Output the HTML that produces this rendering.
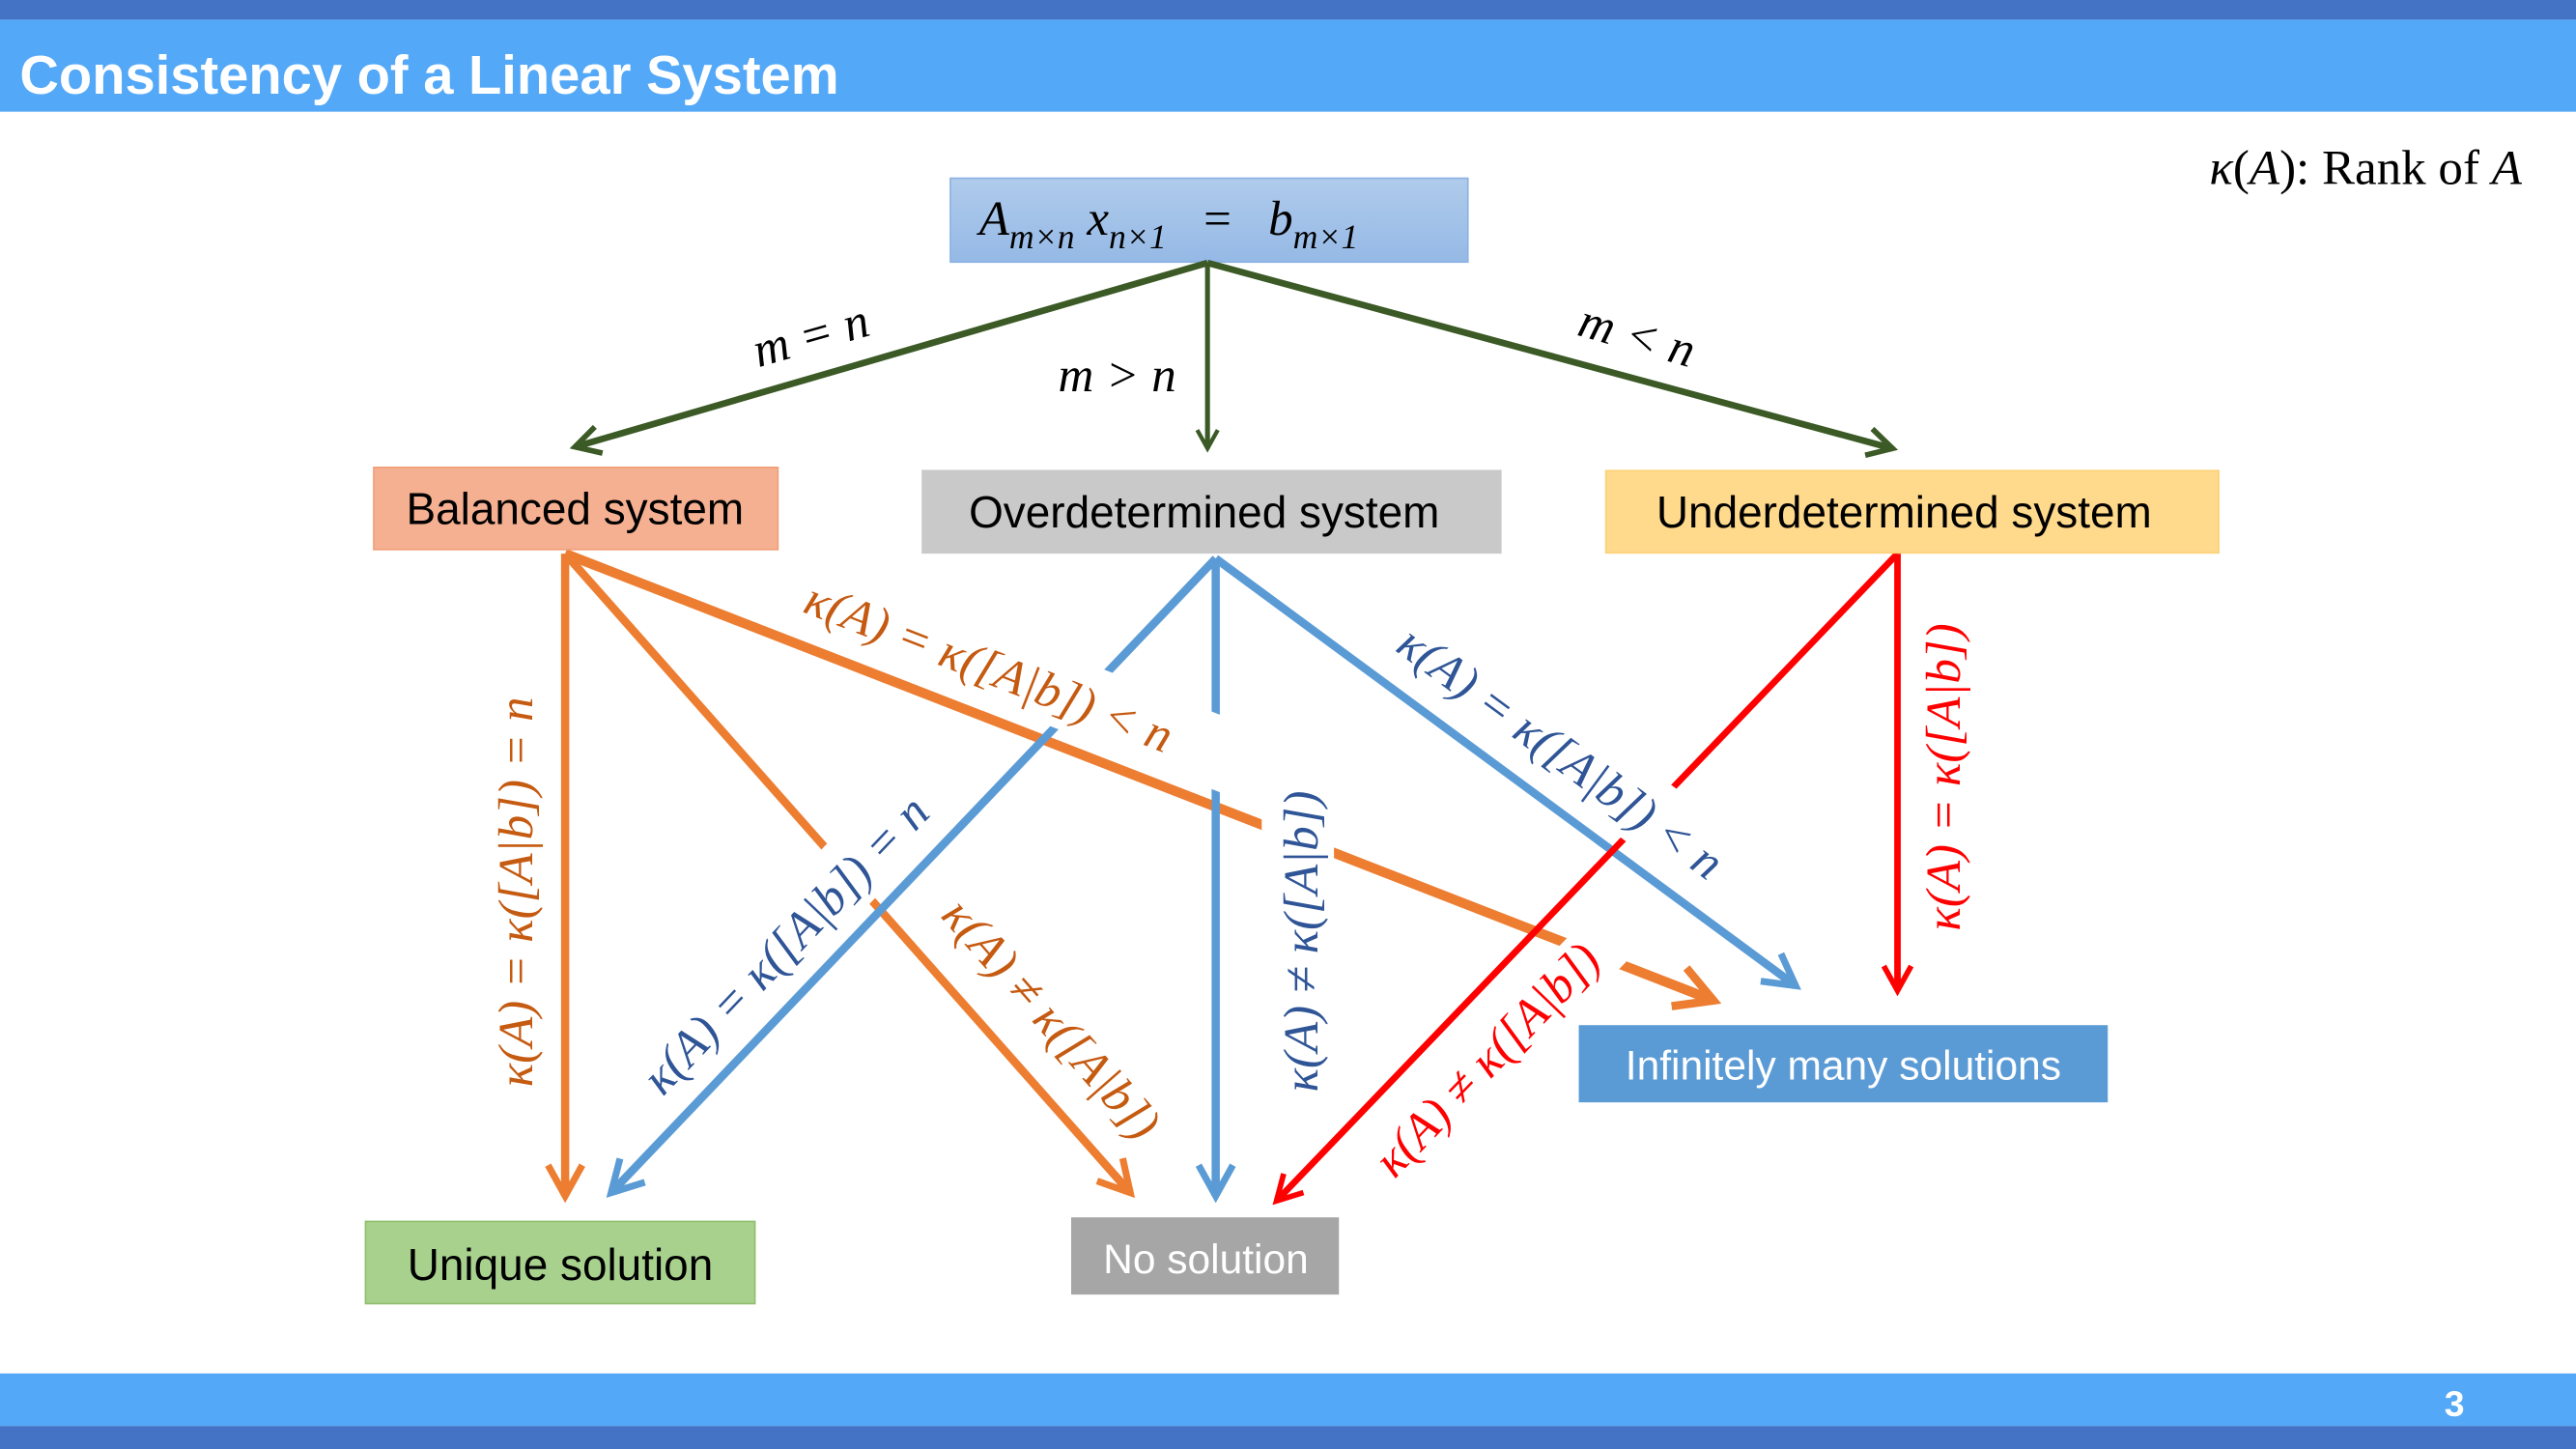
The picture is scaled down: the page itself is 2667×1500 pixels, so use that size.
<!DOCTYPE html>
<html><head><meta charset="utf-8"><style>
html,body{margin:0;padding:0;background:#fff;}
svg{display:block;}
text{font-family:"Liberation Serif",serif;}
.s{font-family:"Liberation Sans",sans-serif;}
</style></head><body>
<svg width="2667" height="1500" viewBox="0 0 1568 882" preserveAspectRatio="none" xmlns="http://www.w3.org/2000/svg">
<defs>
<marker id="ag" viewBox="0 0 12 12" refX="10" refY="6" markerWidth="5" markerHeight="5" orient="auto" markerUnits="strokeWidth"><path d="M1,1 L10,6 L1,11" fill="none" stroke="#3b5a26" stroke-width="2"/></marker>
<marker id="ao" viewBox="0 0 12 12" refX="10" refY="6" markerWidth="5" markerHeight="5" orient="auto" markerUnits="strokeWidth"><path d="M1,1 L10,6 L1,11" fill="none" stroke="#ed7d31" stroke-width="2"/></marker>
<marker id="ab" viewBox="0 0 12 12" refX="10" refY="6" markerWidth="5" markerHeight="5" orient="auto" markerUnits="strokeWidth"><path d="M1,1 L10,6 L1,11" fill="none" stroke="#5b9bd5" stroke-width="2"/></marker>
<marker id="ar" viewBox="0 0 12 12" refX="10" refY="6" markerWidth="5" markerHeight="5" orient="auto" markerUnits="strokeWidth"><path d="M1,1 L10,6 L1,11" fill="none" stroke="#ff0000" stroke-width="2"/></marker>
<linearGradient id="gt" x1="0" y1="0" x2="0" y2="1"><stop offset="0" stop-color="#b0cbeb"/><stop offset="1" stop-color="#95b9e6"/></linearGradient>
</defs>
<rect x="0" y="0" width="1568" height="882" fill="#ffffff"/>
<rect x="0" y="0" width="1568" height="12" fill="#4472c4"/>
<rect x="0" y="12" width="1568" height="56" fill="#53a8f7"/>
<text x="12" y="57" class="s" font-size="33" font-weight="bold" fill="#fff">Consistency of a Linear System</text>
<rect x="0" y="836" width="1568" height="32" fill="#53a8f7"/>
<rect x="0" y="868" width="1568" height="14" fill="#4472c4"/>
<text x="1494" y="862" class="s" font-size="22" font-weight="bold" fill="#fff" text-anchor="middle">3</text>

<text x="1535" y="112" font-size="30" text-anchor="end"><tspan font-style="italic">κ</tspan>(<tspan font-style="italic">A</tspan>): Rank of <tspan font-style="italic">A</tspan></text>

<rect x="578.5" y="108.5" width="315" height="51" fill="url(#gt)" stroke="#8db3e2"/>
<text x="596" y="143" font-size="30" font-style="italic" xml:space="preserve">A<tspan font-size="21" dy="8">m×n</tspan><tspan dy="-8"> x</tspan><tspan font-size="21" dy="8">n×1</tspan><tspan dy="-8" font-style="normal">   =   </tspan>b<tspan font-size="21" dy="8">m×1</tspan></text>

<g stroke="#3b5a26" stroke-width="4" fill="none">
<line x1="735" y1="160" x2="350" y2="272" marker-end="url(#ag)"/>
<line x1="735" y1="160" x2="735" y2="273" stroke-width="3" marker-end="url(#ag)"/>
<line x1="735" y1="160" x2="1152" y2="273" marker-end="url(#ag)"/>
</g>
<text x="494" y="214" font-size="30" font-style="italic" text-anchor="middle" transform="rotate(-16 494 206)">m = n</text>
<text x="680" y="238" font-size="30" font-style="italic" text-anchor="middle">m &gt; n</text>
<text x="996" y="214" font-size="30" font-style="italic" text-anchor="middle" transform="rotate(16 996 206)">m &lt; n</text>

<g fill="none">
<line x1="344" y1="337" x2="344" y2="728" stroke="#ed7d31" stroke-width="5" marker-end="url(#ao)"/>
<line x1="344" y1="337" x2="688" y2="726" stroke="#ed7d31" stroke-width="5" marker-end="url(#ao)"/>
<line x1="344" y1="337" x2="1043" y2="609" stroke="#ed7d31" stroke-width="6" marker-end="url(#ao)"/>
<line x1="740" y1="340" x2="372" y2="726" stroke="#5b9bd5" stroke-width="5" marker-end="url(#ab)"/>
<line x1="740" y1="340" x2="740" y2="728" stroke="#5b9bd5" stroke-width="5" marker-end="url(#ab)"/>
<line x1="740" y1="340" x2="1093" y2="600" stroke="#5b9bd5" stroke-width="5" marker-end="url(#ab)"/>
<line x1="1155" y1="337" x2="777" y2="731" stroke="#ff0000" stroke-width="4" marker-end="url(#ar)"/>
<line x1="1155" y1="337" x2="1155" y2="603" stroke="#ff0000" stroke-width="4" marker-end="url(#ar)"/>
</g>

<g font-size="30" font-style="italic">
<g transform="translate(602 406) rotate(21.3)"><rect x="-165" y="-24" width="330" height="44" fill="#fff"/><text y="10" text-anchor="middle" fill="#c55a11">κ(A) = κ([A|b]) &lt; n</text></g>
<g transform="translate(950 458) rotate(36.4)"><rect x="-155" y="-24" width="310" height="44" fill="#fff"/><text y="10" text-anchor="middle" fill="#2f5597">κ(A) = κ([A|b]) &lt; n</text></g>
<g transform="translate(792 573) rotate(-90)"><rect x="-110" y="-24" width="230" height="44" fill="#fff"/><text y="10" text-anchor="middle" fill="#2f5597">κ(A) ≠ κ([A|b])</text></g>
<g transform="translate(478 575) rotate(-46.4)"><rect x="-150" y="-24" width="300" height="44" fill="#fff"/><text y="10" text-anchor="middle" fill="#2f5597">κ(A) = κ([A|b]) = n</text></g>
<g transform="translate(640 620) rotate(48.7)"><rect x="-110" y="-24" width="220" height="44" fill="#fff"/><text y="10" text-anchor="middle" fill="#c55a11">κ(A) ≠ κ([A|b])</text></g>
<g transform="translate(905 645) rotate(-46.2)"><rect x="-95" y="-16" width="205" height="36" fill="#fff"/><text y="10" text-anchor="middle" fill="#ff0000">κ(A) ≠ κ([A|b])</text></g>
<g transform="translate(314 543) rotate(-90)"><text y="10" text-anchor="middle" fill="#c55a11">κ(A) = κ([A|b]) = n</text></g>
<g transform="translate(1183 473) rotate(-90)"><text y="10" text-anchor="middle" fill="#ff0000">κ(A) = κ([A|b])</text></g>
</g>

<rect x="227.5" y="284.5" width="246" height="50" fill="#f5b092" stroke="#f0a07a"/>
<text x="350" y="319" class="s" font-size="27" text-anchor="middle">Balanced system</text>
<rect x="561" y="286" width="353" height="51" fill="#c9c9c9"/>
<text x="733" y="321" class="s" font-size="27" text-anchor="middle">Overdetermined system</text>
<rect x="977.5" y="286.5" width="373" height="50" fill="#ffd98c" stroke="#fcd27a"/>
<text x="1159" y="321" class="s" font-size="27" text-anchor="middle">Underdetermined system</text>

<rect x="222.5" y="743.5" width="237" height="50" fill="#a9d18e" stroke="#8fc06e"/>
<text x="341" y="779" class="s" font-size="27" text-anchor="middle">Unique solution</text>
<rect x="652" y="741" width="163" height="47" fill="#a6a6a6"/>
<text x="734" y="775" class="s" font-size="25" text-anchor="middle" fill="#fff">No solution</text>
<rect x="961" y="624" width="322" height="47" fill="#5b9bd5"/>
<text x="1122" y="657" class="s" font-size="25" text-anchor="middle" fill="#fff">Infinitely many solutions</text>
</svg>
</body></html>
